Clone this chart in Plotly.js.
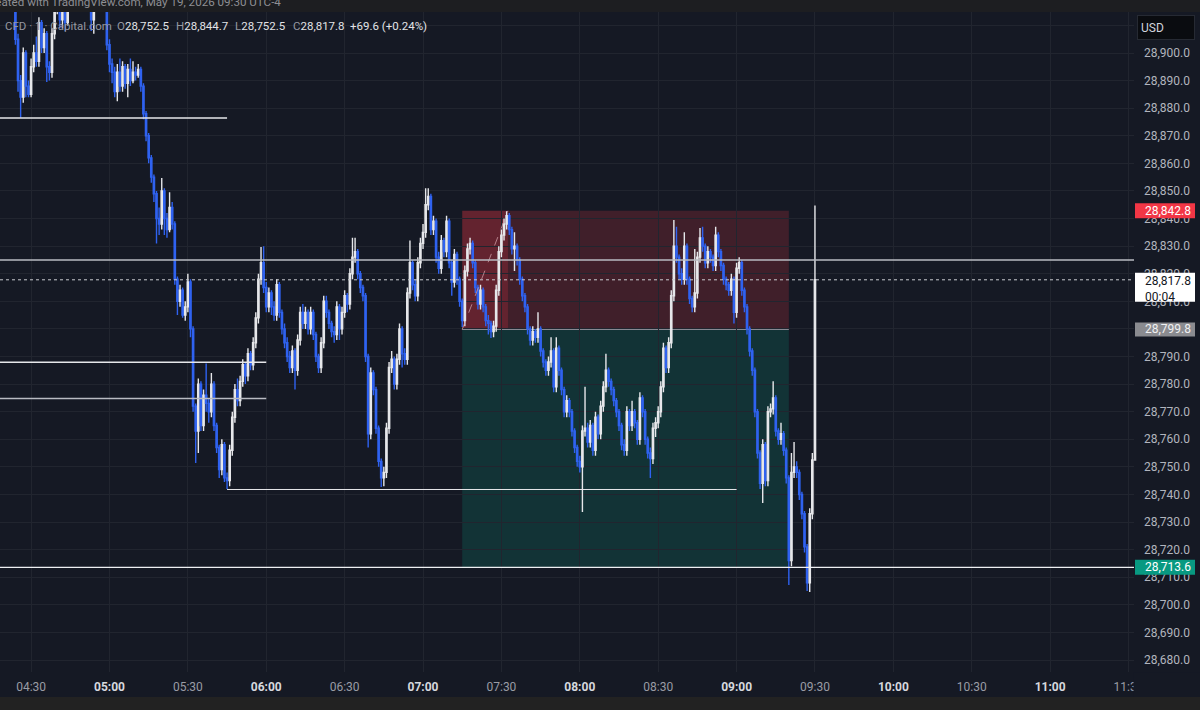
<!DOCTYPE html>
<html>
<head>
<meta charset="utf-8">
<script src="https://cdn.plot.ly/plotly-3.0.1.min.js"></script>
<style>
html,body{margin:0;padding:0;background:#151924;}
#chart{width:1200px;height:710px;}
</style>
</head>
<body>
<div id="chart"></div>
<script>
// ---- DATA (1-minute candles, 04:24 .. 09:30) ----
const sessionDate = '2026-05-19';
const firstCandle = '04:24';

const open = [
28920,28905,28890,28884,28900,28888,28885,28895,28900,28897,
28911,28902,28907,28895,28893,28907,28916,28922,28912,28918,
28911,28920,28925,28928,28932,28930,28934,28930,28926,28922,
28912,28920,28924,28926,28928,28925,28903,28896,28893,28886,
28893,28888,28895,28889,28894,28890,28893,28892,28894,28888,
28878,28870,28862,28855,28849,28840,28838,28850,28840,28836,
28844,28838,28818,28810,28814,28805,28808,28817,28800,28772,
28763,28780,28765,28776,28773,28770,28780,28765,28757,28749,
28758,28746,28745,28756,28768,28778,28774,28781,28787,28783,
28791,28787,28795,28804,28818,28824,28815,28808,28813,28808,
28805,28816,28806,28800,28795,28790,28786,28792,28785,28796,
28806,28802,28806,28800,28806,28798,28790,28786,28795,28810,
28806,28802,28799,28798,28808,28800,28806,28812,28809,28820,
28826,28828,28820,28815,28812,28790,28762,28784,28778,28764,
28752,28746,28748,28764,28786,28789,28780,28789,28800,28791,
28789,28813,28824,28816,28812,28824,28831,28835,28845,28848,
28836,28839,28826,28822,28832,28828,28839,28824,28817,28827,
28818,28810,28803,28821,28829,28831,28824,28815,28809,28814,
28808,28803,28802,28799,28801,28814,28828,28834,28838,28841,
28836,28829,28830,28825,28818,28812,28808,28800,28796,28799,
28797,28800,28792,28788,28785,28788,28792,28779,28793,28785,
28778,28770,28774,28770,28763,28757,28752,28750,28763,28764,
28759,28765,28756,28768,28762,28772,28779,28785,28781,28778,
28774,28770,28765,28758,28756,28770,28765,28770,28766,28760,
28775,28770,28760,28755,28753,28764,28766,28770,28779,28793,
28786,28795,28812,28830,28826,28820,28818,28830,28818,28811,
28808,28813,28826,28833,28830,28824,28828,28826,28823,28834,
28828,28823,28818,28816,28814,28818,28806,28822,28824,28814,
28808,28800,28792,28785,28770,28755,28744,28758,28745,28770,
28771,28775,28763,28760,28762,28756,28746,28716,28748,28750,
28748,28740,28733,28721,28708,28733,28752.5];

const close = [
28905,28890,28884,28900,28888,28885,28895,28900,28897,28911,
28902,28907,28895,28893,28907,28916,28922,28912,28918,28911,
28920,28925,28928,28932,28930,28934,28930,28926,28922,28912,
28920,28924,28926,28928,28925,28903,28896,28893,28886,28893,
28888,28895,28889,28894,28890,28893,28892,28894,28888,28878,
28870,28862,28855,28849,28840,28838,28850,28840,28836,28844,
28838,28818,28810,28814,28805,28808,28817,28800,28772,28763,
28780,28765,28776,28773,28770,28780,28765,28757,28749,28758,
28746,28745,28756,28768,28778,28774,28781,28787,28783,28791,
28787,28795,28804,28818,28824,28815,28808,28813,28808,28805,
28816,28806,28800,28795,28790,28786,28792,28785,28796,28806,
28802,28806,28800,28806,28798,28790,28786,28795,28810,28806,
28802,28799,28798,28808,28800,28806,28812,28809,28820,28826,
28828,28820,28815,28812,28790,28762,28784,28778,28764,28752,
28746,28748,28764,28786,28789,28780,28789,28800,28791,28789,
28813,28824,28816,28812,28824,28831,28835,28845,28848,28836,
28839,28826,28822,28832,28828,28839,28824,28817,28827,28818,
28810,28803,28821,28829,28831,28824,28815,28809,28814,28808,
28803,28802,28799,28801,28814,28828,28834,28838,28841,28836,
28829,28830,28825,28818,28812,28808,28800,28796,28799,28797,
28800,28792,28788,28785,28788,28792,28779,28793,28785,28778,
28770,28774,28770,28763,28757,28752,28750,28763,28764,28759,
28765,28756,28768,28762,28772,28779,28785,28781,28778,28774,
28770,28765,28758,28756,28770,28765,28770,28766,28760,28775,
28770,28760,28755,28753,28764,28766,28770,28779,28793,28786,
28795,28812,28830,28826,28820,28818,28830,28818,28811,28808,
28813,28826,28833,28830,28824,28828,28826,28823,28834,28828,
28823,28818,28816,28814,28818,28806,28822,28824,28814,28808,
28800,28792,28785,28770,28755,28744,28758,28745,28770,28771,
28775,28763,28760,28762,28756,28746,28716,28748,28750,28748,
28740,28733,28721,28708,28733,28752.5,28817.8];

const high = [
28922,28907,28892,28902,28901,28890,28898,28903,28906,28913,
28912,28909,28908,28897,28909,28918,28925,28923,28920,28919,
28922,28928,28931,28935,28934,28937,28935,28932,28928,28924,
28922,28927,28929,28931,28930,28926,28905,28898,28895,28896,
28898,28897,28896,28896,28898,28897,28895,28896,28895,28889,
28879,28871,28863,28856,28850,28844,28854.7,28851,28842,28849.5,
28846,28839,28819,28816,28815,28810,28820,28818,28801,28773,
28782,28781,28778,28787.5,28775,28784,28781,28766,28758,28760,
28759,28748,28758,28770,28780,28782,28783,28789,28788,28793,
28792,28797,28806,28820,28829.7,28830,28817,28815,28814,28810,
28818,28817,28807,28802,28797,28792,28794,28793,28798,28808,
28809,28808,28807,28808,28807,28799,28791,28797,28812,28812,
28807,28803,28801,28810,28809,28808,28814,28813,28822,28833,
28833,28829,28821,28816,28813,28791,28786,28785,28779,28765,
28753,28750,28766,28788,28792,28790,28791,28802,28801,28793,
28815,28832,28825,28818,28826,28833,28838,28851,28851,28849,
28841,28840,28828,28834,28833,28841,28840,28825,28829,28828,
28819,28811,28823,28831,28833,28832,28825,28816,28816,28815,
28809,28805,28803,28803,28816,28830,28836,28840,28842.6,28842,
28837,28835,28831,28826,28819,28813,28809,28801,28801,28800,
28806,28801,28793,28789,28790,28797,28793,28797,28794,28786,
28779,28776,28775,28771,28764,28758,28754,28765,28779,28766,
28767,28766,28770,28769,28774,28781,28791,28786,28782,28779,
28775,28771,28766,28760,28772,28771,28774,28771,28767,28777,
28776,28771,28761,28757,28766,28768,28772,28781,28795,28794,
28797,28814,28839.5,28837,28827,28822,28835,28831,28819,28812,
28829,28828,28836.6,28837,28831,28830,28829,28827,28837,28835,
28829,28824,28819,28817,28820,28819,28824,28826,28825,28815,
28809,28801,28793,28786,28771,28756,28760,28759,28772,28773,
28781,28776,28764,28766,28763,28757,28747,28755,28759,28752,
28749,28741,28734,28722,28735,28755,28844.7];

const low = [
28903,28886,28876.5,28882,28884,28884,28884,28893,28895,28895,
28900,28900,28889.5,28890,28891,28905,28914,28909,28909,28908,
28910,28918,28922,28926,28927,28928,28927,28923,28918,28908,
28907,28918,28922,28923,28921,28901,28893,28889,28884,28882.5,
28886,28886,28887,28884,28888,28889,28890,28891,28886,28876,
28868,28860,28853,28846,28831,28834,28836,28834,28833,28835,
28836,28816,28805,28808,28804,28803,28806,28797,28770,28751.4,
28755,28763,28763,28770,28766,28768,28763,28755,28746,28747,
28744.5,28742,28743,28754,28766,28772,28772,28779,28780,28781,
28785,28785,28793,28802,28816,28813,28806,28806,28805,28803,
28803,28804,28798,28793,28788,28784,28784,28778,28783,28794,
28800,28800,28798,28798,28796,28788,28784,28784,28793,28804,
28800,28797,28795,28796,28796,28798,28804,28806,28807,28818,
28824,28818,28813,28810,28788,28757,28760,28776,28762,28750,
28742.7,28743,28746,28762,28784,28778,28778,28787,28786,28787,
28787,28811,28814,28810,28810,28822,28829,28833,28843,28834,
28834,28824,28820,28820,28826,28826,28822,28812,28815,28816,
28808,28800.7,28801,28819,28827,28822,28813,28807,28807,28806,
28801,28798,28796.7,28797,28799,28812,28826,28832,28836,28834,
28827,28821,28823,28816,28810,28806,28798,28794,28794,28795,
28795,28790,28786,28783,28783,28786,28777,28777,28783,28776,
28768,28768,28768,28761,28755,28750,28748,28733.6,28761,28757,
28757,28754,28754,28760,28760,28770,28777,28779,28776,28772,
28768,28763,28756,28754,28754,28763,28763,28764,28758,28758,
28768,28758,28753,28746,28751,28760.8,28764,28768,28777,28784,
28784,28793,28810,28824,28818,28816,28816,28816,28809,28806,
28806,28811,28824,28828,28822,28822,28824,28821,28821,28826,
28821,28816,28814,28812,28812,28802,28804,28820,28812,28806,
28798,28790,28783,28768,28753,28742,28736.9,28743,28743,28768,
28769,28761,28758,28758,28754,28744,28707.2,28714,28746,28746,
28738,28731,28719,28705,28704.6,28731,28752.5];

const timeTicks = ['04:30','05:00','05:30','06:00','06:30','07:00','07:30','08:00','08:30','09:00','09:30','10:00','10:30','11:00','11:30'];
const priceLevels = {              // drawn horizontal lines
  upperLeft: 28876.4, resist: 28825.0, last: 28817.8, midA: 28787.9, midB: 28774.8,
  support: 28741.8, target: 28713.6
};
const stopPrice = 28842.8, entryPrice = 28799.8, targetPrice = 28713.6;
const headerText = 'Created with TradingView.com, May 19, 2026 09:30 UTC-4';
const ohlcLabel = {o:'28,752.5', h:'28,844.7', l:'28,752.5', c:'28,817.8', chg:'+69.6 (+0.24%)'};

if (!(open.length === close.length && high.length === close.length && low.length === close.length)) {
  throw new Error('length mismatch ' + open.length + ' ' + high.length + ' ' + low.length + ' ' + close.length);
}

function pad(n){return (n<10?'0':'')+n;}
function T(hhmm){return sessionDate + ' ' + hhmm;}
const [fh, fm] = firstCandle.split(':').map(Number);
const times = close.map((_, i) => { const t = fh*60 + fm + i; return T(pad(Math.floor(t/60)) + ':' + pad(t%60)); });

// ---- geometry helpers ----
const W = 1200, H = 710, ML = 0, MR = 66, MT = 12, MB = 38;
const PW = W - ML - MR, PH = H - MT - MB;
const px = x => (x - ML) / PW;
const py = y => (H - MB - y) / PH;
const BG = '#151924';
const FONT = 'Roboto, "Liberation Sans", sans-serif';

const tickText = timeTicks.map(t => t.endsWith(':00')
  ? '<b><span style="color:#d6d8de">' + t + '</span></b>'
  : '<span style="color:#9a9ca4">' + t + '</span>');

const trace = {
  type: 'candlestick', x: times, open: open, high: high, low: low, close: close,
  increasing: {line: {color: '#e6e7ea', width: 1.4}, fillcolor: '#ffffff'},
  decreasing: {line: {color: '#2f62f0', width: 1.4}, fillcolor: '#2f62f0'},
  whiskerwidth: 0, hoverinfo: 'skip', showlegend: false
};

function hline(y, x0, x1, color, width, dash){
  return {type:'line', layer:'above', xref:'x', yref:'y', x0:x0, x1:x1, y0:y, y1:y,
          line:{color:color, width:width, dash:dash||'solid'}};
}
const xStart = T('04:18:06'), xEnd = T('11:32:06');

const shapes = [
  // header & footer bands
  {type:'rect', xref:'paper', yref:'paper', x0:-0.01, x1:1.1, y0:1, y1:py(-2), fillcolor:'#1d1e21', line:{width:0}, layer:'below'},
  {type:'rect', xref:'paper', yref:'paper', x0:-0.01, x1:1.1, y0:py(697), y1:py(712), fillcolor:'#222222', line:{width:0}, layer:'above'},
  // cover overflowing time label under price scale
  {type:'rect', xref:'paper', yref:'paper', x0:px(1133.5), x1:1.1, y0:py(697), y1:py(672.5), fillcolor:BG, line:{width:0}, layer:'above'},
  // position tool: stop (red) and target (green)
  {type:'rect', xref:'x', yref:'y', x0:T('07:15'), x1:T('09:20'), y0:entryPrice, y1:stopPrice,
   fillcolor:'rgba(242,54,69,0.20)', line:{width:0}, layer:'below'},
  {type:'rect', xref:'x', yref:'y', x0:T('07:15'), x1:T('07:32:30'), y0:entryPrice, y1:stopPrice,
   fillcolor:'rgba(242,54,69,0.20)', line:{width:0}, layer:'below'},
  {type:'rect', xref:'x', yref:'y', x0:T('07:15'), x1:T('09:20'), y0:targetPrice, y1:entryPrice,
   fillcolor:'rgba(8,153,129,0.20)', line:{width:0}, layer:'below'},
  {type:'line', xref:'x', yref:'y', x0:T('07:15'), x1:T('09:20'), y0:entryPrice, y1:entryPrice,
   line:{color:'#8d8f98', width:1}, layer:'below'},
  {type:'line', xref:'x', yref:'y', x0:T('07:15'), x1:T('07:32:30'), y0:entryPrice, y1:stopPrice,
   line:{color:'rgba(210,160,170,0.75)', width:1, dash:'dash'}, layer:'above'},
  // horizontal levels
  hline(priceLevels.upperLeft, xStart, T('05:45'), '#e6e7ea', 1.5),
  hline(priceLevels.resist, xStart, xEnd, '#b9bbc2', 1.5),
  hline(priceLevels.last, xStart, xEnd, '#c9cbd1', 1, 'dot'),
  hline(priceLevels.midA, xStart, T('06:00'), '#e6e7ea', 1.5),
  hline(priceLevels.midB, xStart, T('06:00'), '#b9bbc2', 1.5),
  hline(priceLevels.support, T('05:45'), T('09:00'), '#e6e7ea', 1),
  hline(priceLevels.target, xStart, xEnd, '#eef0f3', 1.3),
];

// price-scale labels (background boxes as pixel-sized shapes)
function priceBox(price, color, up, down){
  return {type:'rect', layer:'above', xref:'paper', xsizemode:'pixel', xanchor:1, x0:1, x1:61,
          yref:'y', ysizemode:'pixel', yanchor:price, y0:-down, y1:up,
          fillcolor:color, line:{width:0}};
}
shapes.push(priceBox(stopPrice, '#f23645', 7.5, 7.5));
shapes.push(priceBox(priceLevels.last, '#ffffff', 7, 22));
shapes.push(priceBox(entryPrice, '#8a8b90', 7, 7));
shapes.push(priceBox(targetPrice, '#089981', 7.5, 7.5));

const annotations = [
  {xref:'paper', yref:'paper', x:px(283), xanchor:'right', y:py(2), yanchor:'middle', showarrow:false,
   text:headerText, font:{family:FONT, size:11.6, color:'#8e8f94'}},
  {xref:'paper', yref:'paper', x:px(3), xanchor:'left', y:py(26), yanchor:'middle', showarrow:false,
   text:'CFD · 1 · Capital.com', font:{family:FONT, size:11.5, color:'#9598a1'}},
  {xref:'paper', yref:'paper', x:px(115), xanchor:'left', y:py(26), yanchor:'middle', showarrow:false,
   text:'<span style="color:#9598a1">O</span>' + ohlcLabel.o, font:{family:FONT, size:11.5, color:'#e2e3e6'}},
  {xref:'paper', yref:'paper', x:px(174), xanchor:'left', y:py(26), yanchor:'middle', showarrow:false,
   text:'<span style="color:#9598a1">H</span>' + ohlcLabel.h, font:{family:FONT, size:11.5, color:'#e2e3e6'}},
  {xref:'paper', yref:'paper', x:px(233), xanchor:'left', y:py(26), yanchor:'middle', showarrow:false,
   text:'<span style="color:#9598a1">L</span>' + ohlcLabel.l, font:{family:FONT, size:11.5, color:'#e2e3e6'}},
  {xref:'paper', yref:'paper', x:px(291), xanchor:'left', y:py(26), yanchor:'middle', showarrow:false,
   text:'<span style="color:#9598a1">C</span>' + ohlcLabel.c, font:{family:FONT, size:11.5, color:'#e2e3e6'}},
  {xref:'paper', yref:'paper', x:px(348), xanchor:'left', y:py(26), yanchor:'middle', showarrow:false,
   text:ohlcLabel.chg, font:{family:FONT, size:11.5, color:'#e2e3e6'}},
  // USD box
  {xref:'paper', yref:'paper', x:px(1137), xanchor:'left', y:py(15), yanchor:'top', showarrow:false,
   text:'USD', align:'left', width:50, height:17, borderpad:3, borderwidth:1,
   bgcolor:'#0a0c10', bordercolor:'#262a33', font:{family:FONT, size:12, color:'#d1d4dc'}},
  // price label texts
  {xref:'paper', yref:'y', x:px(1143), xanchor:'left', y:stopPrice, yanchor:'middle', showarrow:false,
   text:'28,842.8', font:{family:FONT, size:12, color:'#ffffff'}},
  {xref:'paper', yref:'y', x:px(1143), xanchor:'left', y:priceLevels.last, yanchor:'top', yshift:8, showarrow:false,
   align:'left', text:'28,817.8<br>00:04', font:{family:FONT, size:12, color:'#131722'}},
  {xref:'paper', yref:'y', x:px(1143), xanchor:'left', y:entryPrice, yanchor:'middle', showarrow:false,
   text:'28,799.8', font:{family:FONT, size:12, color:'#f0f0f2'}},
  {xref:'paper', yref:'y', x:px(1143), xanchor:'left', y:targetPrice, yanchor:'middle', showarrow:false,
   text:'28,713.6', font:{family:FONT, size:12, color:'#ffffff'}},
];

const layout = {
  width: W, height: H,
  margin: {l: ML, r: MR, t: MT, b: MB, pad: 0},
  paper_bgcolor: BG, plot_bgcolor: BG,
  showlegend: false, hovermode: false, dragmode: false,
  font: {family: FONT, color: '#b2b5be', size: 12},
  xaxis: {
    type: 'date', range: [xStart, xEnd], rangeslider: {visible: false},
    tickvals: timeTicks.map(T), ticktext: tickText,
    showgrid: true, gridcolor: '#21252f', gridwidth: 1, zeroline: false, showline: false,
    ticks: '', tickfont: {family: FONT, size: 12, color: '#9a9ca4'}, ticklabelstandoff: 6,
    fixedrange: true
  },
  yaxis: {
    side: 'right', range: [28675.65, 28914.86], dtick: 10, tick0: 28680, tickformat: ',.1f',
    showgrid: true, gridcolor: '#21252f', gridwidth: 1, zeroline: false, showline: false,
    ticks: '', tickfont: {family: FONT, size: 12, color: '#b2b5be'}, ticklabelstandoff: 9,
    fixedrange: true
  },
  shapes: shapes,
  annotations: annotations
};

Plotly.newPlot('chart', [trace], layout, {displayModeBar: false, staticPlot: true});
</script>
</body>
</html>
